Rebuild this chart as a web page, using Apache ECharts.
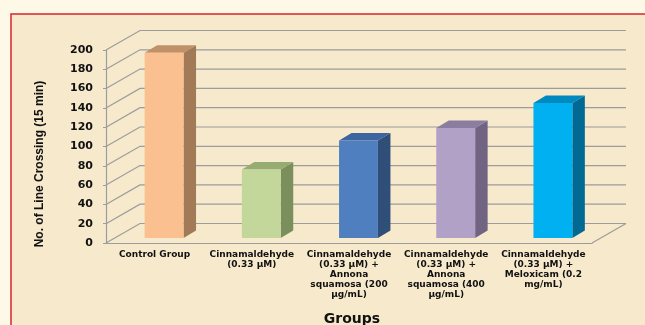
<!DOCTYPE html>
<html>
<head>
<meta charset="utf-8">
<script src="https://cdn.jsdelivr.net/npm/echarts@6/dist/echarts.min.js"></script>
<style>
  html, body { margin: 0; padding: 0; background: #fef9e7; }
  #chart { width: 645px; height: 325px; }
</style>
</head>
<body>
<div id="chart"></div>
<script>
// data
const categories = [
    'Control Group',
    'Cinnamaldehyde\n(0.33 μM)',
    'Cinnamaldehyde\n(0.33 μM) +\nAnnona\nsquamosa (200\nμg/mL)',
    'Cinnamaldehyde\n(0.33 μM) +\nAnnona\nsquamosa (400\nμg/mL)',
    'Cinnamaldehyde\n(0.33 μM) +\nMeloxicam (0.2\nmg/mL)'
];
const values = [192, 71, 101, 114, 140];
const yTicks = [0, 20, 40, 60, 80, 100, 120, 140, 160, 180, 200];

const frontColors = ['#fbc08f', '#c4d79b', '#4f7fbe', '#b2a1c7', '#00b0f0'];
const sideColors = ['#a27a58', '#7b8f5c', '#2f4e78', '#716483', '#006a94'];
const topColors = ['#c09069', '#97ac72', '#3d65a0', '#8b7da0', '#0089be'];

// 3d look
const DX = 34, DY = -19.5;          // back wall offset
const BX = 9.5, BY = -5;            // bar front face offset
const SX = 12.5, SY = -7.5;         // bar depth
const lineColor = '#9c9c9c';

let myChart = echarts.init(document.getElementById('chart'));

function wallItem(params, api) {
    let cs = params.coordSys;
    let y = api.coord([0, api.value(1)])[1];
    let x0 = cs.x, x1 = cs.x + cs.width;
    let children = [{
        type: 'polyline',
        shape: { points: [[x0, y], [x0 + DX, y + DY], [x1 + DX, y + DY]] },
        style: { stroke: lineColor, lineWidth: 1.2, fill: null }
    }];
    if (api.value(1) === 0) {
        children.push({
            type: 'line',
            shape: { x1: x1, y1: y, x2: x1 + DX, y2: y + DY },
            style: { stroke: lineColor, lineWidth: 1.2 }
        });
    }
    return { type: 'group', children: children };
}

function barItem(params, api) {
    let i = api.value(0);
    let top = api.coord([i, api.value(1)]);
    let base = api.coord([i, 0]);
    let w = api.size([1, 0])[0] * 0.4;
    let fx0 = top[0] + BX - w / 2, fx1 = top[0] + BX + w / 2;
    let ty = top[1] + BY, by = base[1] + BY;
    return {
        type: 'group',
        children: [{
            type: 'polygon',
            shape: { points: [[fx1, ty], [fx1 + SX, ty + SY], [fx1 + SX, by + SY], [fx1, by]] },
            style: { fill: sideColors[i] }
        }, {
            type: 'polygon',
            shape: { points: [[fx0, ty], [fx1, ty], [fx1 + SX, ty + SY], [fx0 + SX, ty + SY]] },
            style: { fill: topColors[i] }
        }, {
            type: 'rect',
            shape: { x: fx0, y: ty, width: fx1 - fx0, height: by - ty },
            style: { fill: frontColors[i] }
        }]
    };
}

let option = {
    animation: false,
    backgroundColor: '#fef9e7',
    graphic: [{
        type: 'rect',
        z: -10,
        shape: { x: 11, y: 14, width: 700, height: 400 },
        style: { fill: '#f7e9cc', stroke: '#d8262c', lineWidth: 1.5 }
    }, {
        type: 'text',
        x: 40,
        y: 164,
        rotation: Math.PI / 2,
        style: {
            text: 'No. of Line Crossing (15 min)',
            font: 'bold 12px "Liberation Sans", Arial, sans-serif',
            fill: '#111',
            align: 'center',
            verticalAlign: 'middle'
        }
    }, {
        type: 'text',
        x: 352,
        y: 312,
        style: {
            text: 'Groups',
            font: 'bold 14px "DejaVu Sans", sans-serif',
            fill: '#111',
            align: 'center',
            verticalAlign: 'top'
        }
    }],
    grid: {
        left: 106,
        right: 53,
        top: 50,
        bottom: 82
    },
    xAxis: {
        type: 'category',
        data: categories,
        axisLine: { lineStyle: { color: lineColor, width: 1.2 } },
        axisTick: { length: 3, lineStyle: { color: lineColor } },
        axisLabel: {
            interval: 0,
            margin: 7,
            color: '#111',
            fontSize: 9,
            lineHeight: 10,
            fontWeight: 'bold',
            fontFamily: 'DejaVu Sans'
        }
    },
    yAxis: {
        type: 'value',
        min: 0,
        max: 200,
        interval: 20,
        axisLine: { show: true, lineStyle: { color: lineColor, width: 1.2 } },
        axisTick: { show: true, length: 3, lineStyle: { color: lineColor } },
        splitLine: { show: false },
        axisLabel: {
            margin: 13,
            color: '#111',
            fontSize: 11,
            fontWeight: 'bold',
            fontFamily: 'DejaVu Sans'
        }
    },
    series: [{
        type: 'custom',
        renderItem: wallItem,
        clip: false,
        z: 1,
        data: yTicks.map(v => [0, v])
    }, {
        type: 'custom',
        renderItem: barItem,
        clip: false,
        z: 3,
        data: values.map((v, i) => [i, v])
    }]
};

myChart.setOption(option);
</script>
</body>
</html>
